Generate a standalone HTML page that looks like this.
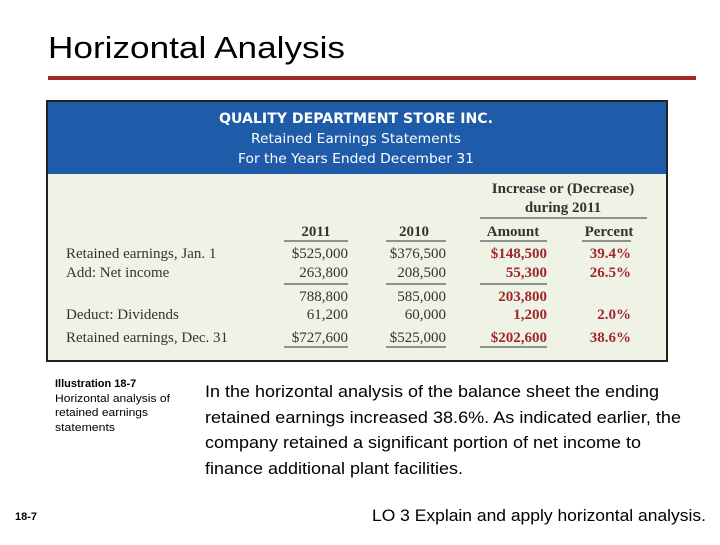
<!DOCTYPE html>
<html><head><meta charset="utf-8"><style>
html,body{margin:0;padding:0;background:#fff;}
body{width:720px;height:540px;position:relative;overflow:hidden;font-family:"Liberation Sans",sans-serif;}
</style></head><body>
<svg width="720" height="540" xmlns="http://www.w3.org/2000/svg">
<text x="48" y="58" font-size="31" textLength="297" lengthAdjust="spacingAndGlyphs" fill="#000">Horizontal Analysis</text>
<rect x="48" y="76" width="648" height="4" fill="#a52a2a"/>
<g>
<rect x="47" y="101" width="620" height="260" fill="#eef3e6" stroke="#222" stroke-width="2"/>
<rect x="48" y="102" width="618" height="72" fill="#1e5ba8"/>
<g fill="#fff" text-anchor="middle" font-family="'DejaVu Sans',sans-serif">
<text x="356" y="123" font-size="14.5" font-weight="bold" textLength="274" lengthAdjust="spacingAndGlyphs">QUALITY DEPARTMENT STORE INC.</text>
<text x="356" y="143" font-size="13.5" textLength="210" lengthAdjust="spacingAndGlyphs">Retained Earnings Statements</text>
<text x="356" y="163" font-size="13.5" textLength="236" lengthAdjust="spacingAndGlyphs">For the Years Ended December 31</text>
</g>
<g font-family="'Liberation Serif',serif" font-size="15" fill="#333">
<g text-anchor="middle" font-weight="bold">
<text x="563" y="193">Increase or (Decrease)</text>
<text x="563" y="212">during 2011</text>
<text x="316" y="236">2011</text>
<text x="414" y="236">2010</text>
<text x="513" y="236">Amount</text>
<text x="609" y="236">Percent</text>
</g>
<g stroke="#333" stroke-width="1">
<line x1="480" y1="218" x2="647" y2="218"/>
<line x1="284" y1="241" x2="348" y2="241"/><line x1="386" y1="241" x2="446" y2="241"/>
<line x1="480" y1="241" x2="547" y2="241"/><line x1="582" y1="241" x2="631" y2="241"/>
<line x1="284" y1="284" x2="348" y2="284"/><line x1="386" y1="284" x2="446" y2="284"/>
<line x1="480" y1="284" x2="547" y2="284"/>
<line x1="284" y1="347" x2="348" y2="347"/><line x1="386" y1="347" x2="446" y2="347"/>
<line x1="480" y1="347" x2="547" y2="347"/>
</g>
<g>
<text x="66" y="258">Retained earnings, Jan. 1</text>
<text x="66" y="277">Add: Net income</text>
<text x="66" y="319">Deduct: Dividends</text>
<text x="66" y="342">Retained earnings, Dec. 31</text>
</g>
<g text-anchor="end">
<text x="348" y="258">$525,000</text><text x="446" y="258">$376,500</text>
<text x="348" y="277">263,800</text><text x="446" y="277">208,500</text>
<text x="348" y="301">788,800</text><text x="446" y="301">585,000</text>
<text x="348" y="319">61,200</text><text x="446" y="319">60,000</text>
<text x="348" y="342">$727,600</text><text x="446" y="342">$525,000</text>
</g>
<g text-anchor="end" fill="#a3262b" font-weight="bold">
<text x="547" y="258">$148,500</text><text x="631" y="258">39.4%</text>
<text x="547" y="277">55,300</text><text x="631" y="277">26.5%</text>
<text x="547" y="301">203,800</text>
<text x="547" y="319">1,200</text><text x="631" y="319">2.0%</text>
<text x="547" y="342">$202,600</text><text x="631" y="342">38.6%</text>
</g>
</g>
</g>
<g font-size="11" fill="#000">
<text x="55" y="387" font-weight="bold">Illustration 18-7</text>
<text x="55" y="402" textLength="115" lengthAdjust="spacingAndGlyphs">Horizontal analysis of</text>
<text x="55" y="416" textLength="93" lengthAdjust="spacingAndGlyphs">retained earnings</text>
<text x="55" y="431" textLength="60" lengthAdjust="spacingAndGlyphs">statements</text>
</g>
<g font-size="16.5" fill="#000">
<text x="205" y="397" textLength="454" lengthAdjust="spacingAndGlyphs">In the horizontal analysis of the balance sheet the ending</text>
<text x="205" y="423" textLength="476" lengthAdjust="spacingAndGlyphs">retained earnings increased 38.6%. As indicated earlier, the</text>
<text x="205" y="448" textLength="436" lengthAdjust="spacingAndGlyphs">company retained a significant portion of net income to</text>
<text x="205" y="474" textLength="258" lengthAdjust="spacingAndGlyphs">finance additional plant facilities.</text>
</g>
<text x="15" y="520" font-size="11" font-weight="bold">18-7</text>
<text x="372" y="521" font-size="16.5" textLength="334" lengthAdjust="spacingAndGlyphs">LO 3  Explain and apply horizontal analysis.</text>
</svg>
</body></html>
